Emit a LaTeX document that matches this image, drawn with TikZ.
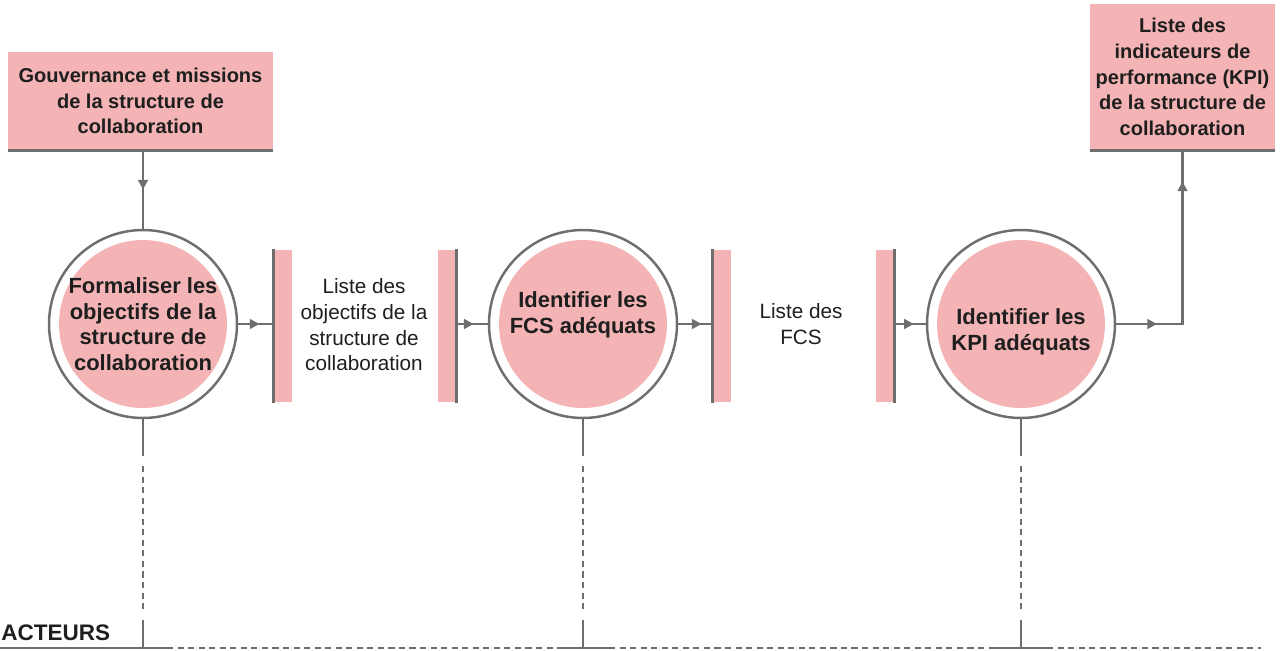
\documentclass[tikz,border=0pt]{standalone}
\usepackage{fontspec}
\setmainfont{Liberation Sans}
\usetikzlibrary{arrows.meta,decorations.markings,calc}

\definecolor{rose}{HTML}{F4B4B5}
\definecolor{trait}{HTML}{6E6E6E}
\definecolor{encre}{HTML}{1E1E1E}

\tikzset{
	conn/.style={draw=trait, line width=1.4pt},
	pointille/.style={draw=trait, line width=0.9pt, dash pattern=on 3.5pt off 2.5pt},
	fleche/.style={postaction={decorate}, decoration={markings,
		mark=at position #1 with {\arrow[trait]{Triangle[length=5.5pt,width=5.5pt]}}}},
	entree/.style={rectangle, fill=rose, inner sep=0pt, align=center, text=encre,
		minimum width=5.3cm, minimum height=1.96cm, font=\bfseries\fontsize{11.4}{14.6}\selectfont},
	proc/.style={circle, draw=trait, line width=1.4pt, fill=white, inner sep=0pt,
		minimum size=3.76cm, path picture={\fill[rose] (path picture bounding box.center) circle (1.68cm);}},
	proctexte/.style={align=center, text=encre, font=\bfseries\fontsize{12.5}{14.6}\selectfont},
	stock/.style={rectangle, fill=rose, inner sep=0pt, minimum width=0.36cm, minimum height=3.06cm},
	donnee/.style={align=center, text=encre, font=\fontsize{11.8}{14.6}\selectfont}
}

\begin{document}
\begin{tikzpicture}[x=0.02cm, y=-0.02cm]
	\useasboundingbox (0,0) rectangle (1282,650);

	% entree et sortie
	\node[entree] (gouv) at (140.5,101) {Gouvernance et missions\\de la structure de\\collaboration};
	\node[entree, minimum width=3.7cm, minimum height=2.92cm] (kpi) at (1182.5,77)
		{Liste des\\indicateurs de\\performance (KPI)\\de la structure de\\collaboration};
	\draw[conn] (gouv.south west) -- (gouv.south east);
	\draw[conn] (kpi.south west) -- (kpi.south east);

	% processus
	\node[proc] (c1) at (143,324) {};
	\node[proc] (c2) at (583,324) {};
	\node[proc] (c3) at (1021,324) {};
	\node[proctexte] (t1) at (143,324) {Formaliser les\\objectifs de la\\structure de\\collaboration};
	\node[proctexte] (t2) at (583,315) {Identifier les\\FCS adéquats};
	\node[proctexte] (t3) at (1021,332) {Identifier les\\KPI adéquats};

	% stocks de donnees
	\node[stock] (s1) at (283,326) {};
	\node[stock] (s2) at (447,326) {};
	\node[stock] (s3) at (722,326) {};
	\node[stock] (s4) at (885,326) {};
	\draw[conn] (s1.north west) -- (s1.south west);
	\draw[conn] (s2.north east) -- (s2.south east);
	\draw[conn] (s3.north west) -- (s3.south west);
	\draw[conn] (s4.north east) -- (s4.south east);
	\node[donnee] (l1) at (364,325) {Liste des\\objectifs de la\\structure de\\collaboration};
	\node[donnee] (l2) at (801,324) {Liste des\\FCS};

	% flux
	\draw[conn, fleche=0.5] (c1.north |- gouv.south) -- (c1.north);
	\draw[conn, fleche=0.6] (c1.east) -- (c1.east -| s1.west);
	\draw[conn, fleche=0.55] (c2.west -| s2.east) -- (c2.west);
	\draw[conn, fleche=0.68] (c2.east) -- (c2.east -| s3.west);
	\draw[conn, fleche=0.62] (c3.west -| s4.east) -- (c3.west);
	\draw[conn, postaction={decorate}, decoration={markings,
		mark=at position 0.17 with {\arrow[trait]{Triangle[length=5.5pt,width=5.5pt]}},
		mark=at position 0.87 with {\arrow[trait]{Triangle[length=5.5pt,width=5.5pt]}}}]
		(c3.east) -| (kpi.south);

	% acteurs
	\coordinate (a1) at (143,648);
	\coordinate (a2) at (583,648);
	\coordinate (a3) at (1021,648);
	\foreach \n in {1,2,3} {
		\draw[conn] (c\n.south) -- (c\n.south |- 0,456);
		\draw[pointille] (c\n.south |- 0,466) -- (c\n.south |- 0,612);
		\draw[conn] (c\n.south |- 0,620) -- (a\n);
	}
	\draw[conn] (0,648) -- ($(a1)+(24,0)$);
	\draw[conn] ($(a2)+(-26,0)$) -- ($(a2)+(26,0)$);
	\draw[conn] ($(a3)+(-26,0)$) -- ($(a3)+(26,0)$);
	\draw[pointille] ($(a1)+(24,0)$) -- ($(a2)+(-26,0)$);
	\draw[pointille] ($(a2)+(26,0)$) -- ($(a3)+(-26,0)$);
	\draw[pointille] ($(a3)+(26,0)$) -- (1261,648);
	\node[anchor=base west, inner sep=0pt, text=encre, font=\bfseries\fontsize{12.8}{15}\selectfont] (acteurs) at (1,640) {ACTEURS};
\end{tikzpicture}
\end{document}
